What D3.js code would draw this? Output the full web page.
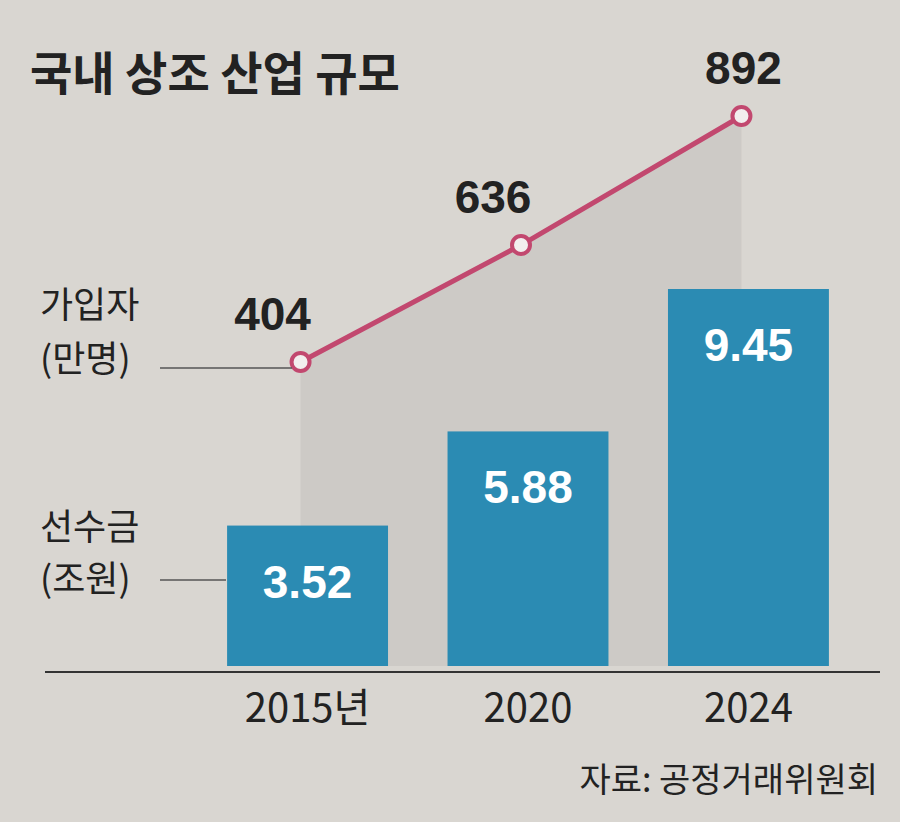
<!DOCTYPE html>
<html><head><meta charset="utf-8">
<script src="https://cdn.jsdelivr.net/npm/d3@7"></script>
<style>body{margin:0;background:#d9d6d1}</style>
</head><body>
<svg id="c" width="900" height="822"></svg>
<script>
const years = ["2015년", "2020", "2024"];
const deposits = [3.52, 5.88, 9.45];
const members = [404, 636, 892];

const svg = d3.select("#c");
const F = "'Noto Sans CJK KR','Noto Sans',sans-serif";
const N = "'Liberation Sans','Noto Sans CJK KR',sans-serif";
svg.append("rect").attr("width",900).attr("height",822).attr("fill","#d9d6d1");

const x = d3.scaleBand().domain(years).range([183,873]).paddingInner(0.27).paddingOuter(0.2);
const yBar = d3.scaleLinear().domain([0,9.45]).range([666,289]);
const yLine = d3.scaleLinear().domain([404,892]).range([362,116]);
const cx = d => x(d)+x.bandwidth()/2 - 7;

// shaded area under line
const area = d3.area().x((d,i)=>cx(years[i])).y0(666).y1(d=>yLine(d));
svg.append("path").datum(members).attr("d",area).attr("fill","#cdcac6");

// bars
svg.selectAll(".bar").data(deposits).join("rect")
  .attr("x",(d,i)=>x(years[i])).attr("width",x.bandwidth())
  .attr("y",d=>yBar(d)).attr("height",d=>666-yBar(d)).attr("fill","#2b8bb3");
svg.selectAll(".bl").data(deposits).join("text")
  .attr("x",(d,i)=>x(years[i])+x.bandwidth()/2).attr("y",d=>yBar(d)+72)
  .attr("text-anchor","middle").attr("fill","#fff").attr("font-family",N)
  .attr("font-weight","bold").attr("font-size",46).text(d=>d.toFixed(2));

// baseline
svg.append("line").attr("x1",45).attr("x2",880).attr("y1",672).attr("y2",672).attr("stroke","#333").attr("stroke-width",2);

// line
const line = d3.line().x((d,i)=>cx(years[i])).y(d=>yLine(d));
svg.append("path").datum(members).attr("d",line).attr("fill","none").attr("stroke","#c2486f").attr("stroke-width",5);
svg.selectAll(".pt").data(members).join("circle")
  .attr("cx",(d,i)=>cx(years[i])).attr("cy",d=>yLine(d)).attr("r",9)
  .attr("fill","#f2eeee").attr("stroke","#c2486f").attr("stroke-width",4);
svg.selectAll(".ml").data(members).join("text")
  .attr("x",(d,i)=>cx(years[i])-28 + (i===2?30:0)).attr("y",d=>yLine(d)-32)
  .attr("text-anchor","middle").attr("fill","#222").attr("font-family",N)
  .attr("font-weight","bold").attr("font-size",46).text(d=>d);

// x labels
svg.selectAll(".xl").data(years).join("text")
  .attr("x",d=>x(d)+x.bandwidth()/2).attr("y",722).attr("text-anchor","middle")
  .attr("fill","#222").attr("font-family",F).attr("font-size",40).text(d=>d);

// title
svg.append("text").attr("x",30).attr("y",90).attr("font-family",F).attr("font-weight","bold")
  .attr("font-size",46).attr("fill","#222").text("국내 상조 산업 규모");

// side labels
const side = [["가입자",318],["(만명)",372],["선수금",540],["(조원)",592]];
svg.selectAll(".sl").data(side).join("text").attr("x",40).attr("y",d=>d[1])
  .attr("font-family",F).attr("font-size",36).attr("fill","#222").text(d=>d[0]);
svg.append("line").attr("x1",160).attr("x2",292).attr("y1",368).attr("y2",368).attr("stroke","#555").attr("stroke-width",1.5);
svg.append("line").attr("x1",160).attr("x2",226).attr("y1",580).attr("y2",580).attr("stroke","#555").attr("stroke-width",1.5);

// source
svg.append("text").attr("x",878).attr("y",792).attr("text-anchor","end").attr("font-family",F)
  .attr("font-size",34).attr("fill","#222").text("자료: 공정거래위원회");
</script>
</body></html>
